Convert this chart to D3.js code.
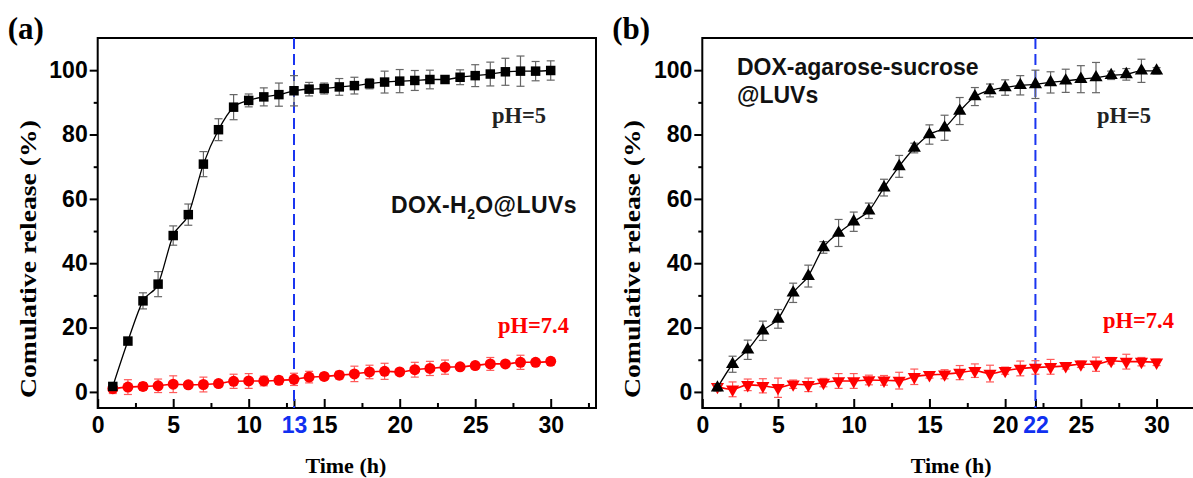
<!DOCTYPE html>
<html>
<head>
<meta charset="utf-8">
<script src="https://cdn.jsdelivr.net/npm/d3@7/dist/d3.min.js"></script>
<style>
  body { margin: 0; background: #fff; }
  svg text { font-family: "Liberation Sans", Arial, sans-serif; }
</style>
</head>
<body>
<svg id="chart" width="1193" height="478"></svg>
<script>
// sampling times (h)
const hours = [1,2,3,4,5,6,7,8,9,10,11,12,13,14,15,16,17,18,19,20,21,22,23,24,25,26,27,28,29,30];

// (a) DOX-H2O@LUVs
const aPh5    = [1.7,15.8,28.3,33.5,48.6,55.1,70.8,81.5,88.5,90.6,91.7,92.4,93.6,94.1,94.3,94.8,95.2,95.8,96.3,96.6,96.8,97.1,97.1,97.8,98.3,98.8,99.5,99.7,99.7,99.9];
const aPh5Err = [1,1,2.5,3.9,3,3.3,3.9,3.4,3.9,2,2.8,3.6,4.7,2.1,1.7,2.6,2.6,1.6,3.4,3.6,3.1,2.9,1,2.3,3.4,3.7,4.2,4.7,3,3];
const aPh74    = [1.0,1.5,1.7,1.9,2.4,2.2,2.3,2.6,3.3,3.4,3.4,3.6,3.9,4.6,4.8,5.2,5.6,6.2,6.4,6.2,6.9,7.3,7.7,7.8,8.2,8.7,8.7,9.2,9.2,9.5];
const aPh74Err = [1.5,2.3,1.2,2.1,2.6,1,2.3,1,2.2,2.3,1.5,1.2,1.9,1.8,1,1.2,2.4,2.1,2.5,1,2.3,2.2,2.2,0.5,1,2,0.5,2.2,0.7,1];

// (b) DOX-agarose-sucrose@LUVs
const bPh5    = [1.3,8.6,13.1,19.0,22.7,30.8,36.0,44.9,49.4,52.9,56.3,63.5,70.1,75.8,80.0,82.1,87.3,91.8,93.7,94.6,95.3,95.6,96.2,96.7,97.2,97.7,98.4,98.7,99.8,99.8];
const bPh5Err = [1,2.5,3,3,2.9,3,3.4,1.8,4.2,3,2.4,2.6,3.4,1.5,3,3.9,4.2,2.8,2,2.4,3,4.4,3.3,3.6,4.2,4.7,1.3,1.8,3.6,1];
const bPh74    = [1.6,0.8,2.2,1.9,1.3,2.4,2.2,2.9,3.4,3.4,3.7,3.6,3.5,4.7,5.3,5.5,6.0,6.6,5.7,6.6,7.3,7.6,7.8,8.1,8.6,8.6,9.7,9.4,9.4,9.2];
const bPh74Err = [1,2.3,1.8,2.2,3,1.3,2.1,1.3,2.3,2.3,1.5,1.5,2.6,2.4,1,1.4,2.2,2.1,2.6,1.1,2.3,2.1,2.3,1,1,2.2,1,2.3,1.3,1];

const xMajor = [0,5,10,15,20,25,30];
const xMinor = [2.5,7.5,12.5,17.5,22.5,27.5,32.5];
const yMajor = [0,20,40,60,80,100];
const yMinor = [10,30,50,70,90];

const panels = [
  { tag: "(a)", left: 97.7, right: 596, mark: 13,
    ph5: aPh5, ph5Err: aPh5Err, ph74: aPh74, ph74Err: aPh74Err,
    sym5: d3.symbolSquare, sym74: d3.symbolCircle, flip74: false },
  { tag: "(b)", left: 702.3, right: 1202, mark: 22,
    ph5: bPh5, ph5Err: bPh5Err, ph74: bPh74, ph74Err: bPh74Err,
    sym5: d3.symbolTriangle, sym74: d3.symbolTriangle, flip74: true }
];

const plotTop = 38, plotBottom = 408;
const svg = d3.select("#chart");

panels.forEach((p, i) => {
  const x = d3.scaleLinear().domain([0, 33]).range([p.left, p.right]);
  const y = d3.scaleLinear().domain([-5, 110]).range([plotBottom, plotTop]);
  const g = svg.append("g");

  // y axis: ticks outward
  g.append("g").attr("transform", `translate(${p.left},0)`)
    .call(d3.axisLeft(y).tickValues(yMinor).tickSize(4).tickFormat(""))
    .call(a => a.select(".domain").remove());
  g.append("g").attr("transform", `translate(${p.left},0)`)
    .call(d3.axisLeft(y).tickValues(yMajor).tickSize(8).tickPadding(2))
    .call(a => a.select(".domain").remove());

  // x axis: ticks inward
  g.append("g").attr("transform", `translate(0,${plotBottom})`)
    .call(d3.axisBottom(x).tickValues(xMinor).tickSize(-5).tickFormat(""))
    .call(a => a.select(".domain").remove());
  g.append("g").attr("transform", `translate(0,${plotBottom})`)
    .call(d3.axisBottom(x).tickValues(xMajor.concat([p.mark])).tickSize(-9).tickPadding(9))
    .call(a => a.select(".domain").remove());

  g.selectAll(".tick line").attr("stroke", "#000").attr("stroke-width", 2);
  g.selectAll(".tick text")
    .attr("font-family", "'Liberation Sans', Arial, sans-serif")
    .attr("font-weight", "bold").attr("font-size", 23).attr("fill", "#000");
  g.selectAll(".tick").filter(d => d === p.mark).select("text").attr("fill", "#1030f0");

  // frame
  g.append("rect").attr("x", p.left).attr("y", plotTop)
    .attr("width", p.right - p.left).attr("height", plotBottom - plotTop)
    .attr("fill", "none").attr("stroke", "#000").attr("stroke-width", 2);

  // dashed marker line
  g.append("line").attr("x1", x(p.mark)).attr("x2", x(p.mark))
    .attr("y1", plotTop).attr("y2", plotBottom)
    .attr("stroke", "#1a35f0").attr("stroke-width", 2).attr("stroke-dasharray", "11,5");

  const series = [
    { vals: p.ph74, err: p.ph74Err, color: "#ff0000", errColor: "#ff5a5a", sym: p.sym74, flip: p.flip74, lw: 1.6 },
    { vals: p.ph5, err: p.ph5Err, color: "#000", errColor: "#666", sym: p.sym5, flip: false, lw: 1.3 }
  ];

  series.forEach(s => {
    const pts = hours.map((h, k) => ({ h, v: s.vals[k], e: s.err[k] }));
    const eb = g.append("g").attr("stroke", s.errColor).attr("stroke-width", 1.2);
    pts.forEach(d => {
      const cx = x(d.h);
      eb.append("line").attr("x1", cx).attr("x2", cx).attr("y1", y(d.v - d.e)).attr("y2", y(d.v + d.e));
      eb.append("line").attr("x1", cx - 4).attr("x2", cx + 4).attr("y1", y(d.v - d.e)).attr("y2", y(d.v - d.e));
      eb.append("line").attr("x1", cx - 4).attr("x2", cx + 4).attr("y1", y(d.v + d.e)).attr("y2", y(d.v + d.e));
    });
    g.append("path").datum(pts)
      .attr("fill", "none").attr("stroke", s.color).attr("stroke-width", s.lw)
      .attr("d", d3.line().x(d => x(d.h)).y(d => y(d.v)).curve(d3.curveMonotoneX));
    const size = s.sym === d3.symbolCircle ? 95 : (s.sym === d3.symbolSquare ? 90 : 75);
    g.append("g").selectAll("path").data(pts).join("path")
      .attr("transform", d => `translate(${x(d.h)},${y(d.v)})${s.flip ? " rotate(180)" : ""}`)
      .attr("d", d3.symbol().type(s.sym).size(size))
      .attr("fill", s.color);
  });

  // axis titles
  g.append("text").attr("transform", `translate(${p.left - 70},${259}) rotate(-90)`)
    .attr("text-anchor", "middle").attr("dy", "0.35em")
    .style("font-family", "'Liberation Serif', 'Times New Roman', serif")
    .attr("font-weight", "bold").attr("font-size", 23)
    .attr("textLength", 278).attr("lengthAdjust", "spacingAndGlyphs")
    .text("Comulative release (%)");
  g.append("text").attr("x", (p.left + p.right) / 2 - 1).attr("y", 473)
    .attr("text-anchor", "middle")
    .style("font-family", "'Liberation Serif', 'Times New Roman', serif")
    .attr("font-weight", "bold").attr("font-size", 22)
    .text("Time (h)");

  // panel tag
  g.append("text").attr("x", p.left - 90).attr("y", 39)
    .style("font-family", "'Liberation Serif', 'Times New Roman', serif")
    .attr("font-weight", "bold").attr("font-size", 31)
    .text(p.tag);
});

// annotations
const serif = "'Liberation Serif', 'Times New Roman', serif";
function note(xp, yp, txt, color, fam, size) {
  return svg.append("text").attr("x", xp).attr("y", yp)
    .style("font-family", fam).attr("font-weight", "bold")
    .attr("font-size", size).attr("fill", color).text(txt);
}
note(492, 123, "pH=5", "#222", serif, 22.5);
note(498, 333, "pH=7.4", "#ff0000", serif, 22.5);
note(1097, 123, "pH=5", "#222", serif, 22.5);
note(1103, 328, "pH=7.4", "#ff0000", serif, 22.5);

const sans = "'Liberation Sans', Arial, sans-serif";
const dox = note(391, 213, "", "#111", sans, 23).attr("letter-spacing", 0.4);
dox.append("tspan").text("DOX-H");
dox.append("tspan").attr("font-size", 14).attr("dy", 6).text("2");
dox.append("tspan").attr("dy", -6).text("O@LUVs");
note(737, 75, "DOX-agarose-sucrose", "#111", sans, 23);
note(737, 103, "@LUVs", "#111", sans, 23);
</script>
</body>
</html>
